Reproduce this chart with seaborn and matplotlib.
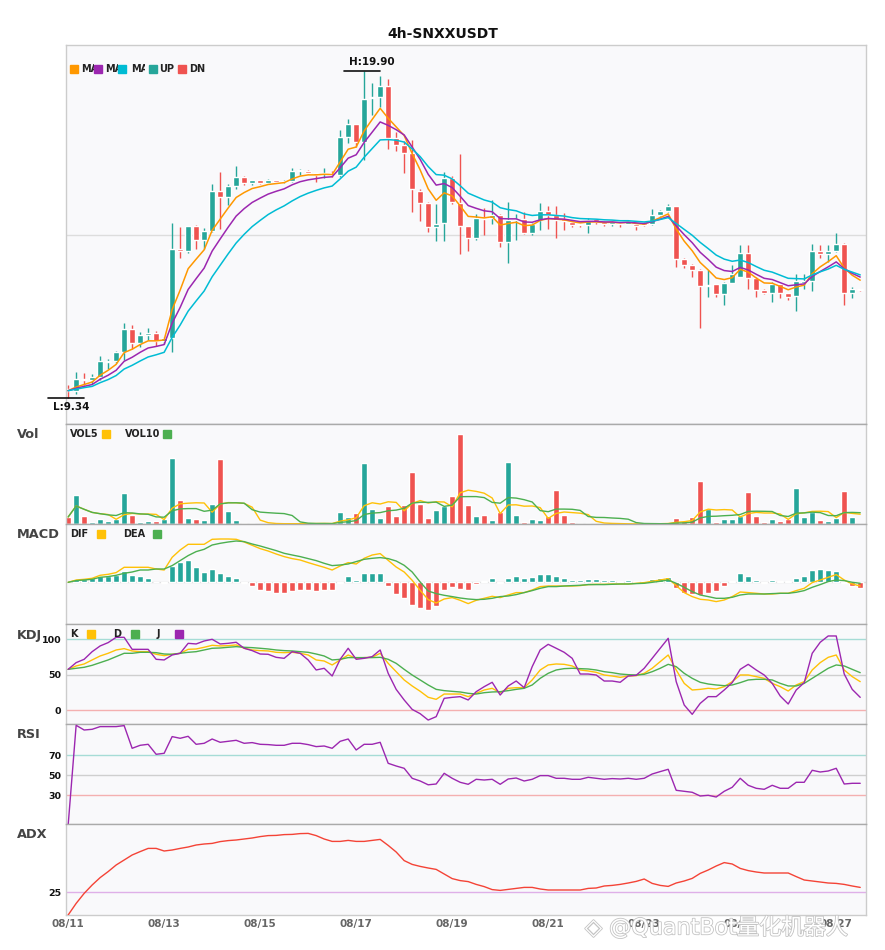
# 4h SNXXUSDT : bougies + Vol / MACD / KDJ / RSI / ADX
import matplotlib
matplotlib.use("Agg")
import matplotlib.pyplot as plt
import matplotlib.patheffects as pe
from matplotlib.patches import Rectangle
import numpy as np
import seaborn as sns

W, H = 885, 950

date_labels = ['08/11', '08/13', '08/15', '08/17', '08/19', '08/21', '08/23', '08/25', '08/27']

opens = [9.62, 9.58, 9.96, 9.92, 10.01, 10.52, 10.53, 10.82, 11.57, 11.13,
         11.39, 11.43, 11.19, 11.29, 14.17, 14.09, 14.90, 14.46, 14.74, 16.02,
         15.84, 16.20, 16.49, 16.29, 16.38, 16.30, 16.38, 16.33, 16.35, 16.66,
         16.68, 16.60, 16.58, 16.60, 16.54, 17.78, 18.19, 17.60, 19.03, 19.07,
         19.42, 17.73, 17.51, 17.26, 16.02, 15.65, 14.87, 15.00, 16.45, 15.65,
         14.90, 14.52, 15.16, 15.16, 15.27, 14.39, 15.09, 15.11, 14.68, 15.09,
         15.38, 15.27, 15.11, 15.03, 14.95, 14.93, 15.11, 15.03, 14.96, 15.00,
         14.98, 14.98, 15.00, 14.96, 15.25, 15.38, 15.54, 13.83, 13.64, 13.47,
         12.97, 13.02, 12.70, 13.07, 13.26, 14.03, 13.22, 12.83, 12.74, 13.02,
         12.74, 12.64, 13.07, 13.13, 14.10, 14.01, 14.10, 14.31, 12.74, 12.85]
highs = [9.76, 10.17, 10.14, 10.11, 10.70, 10.59, 10.87, 11.76, 11.70, 11.46,
         11.60, 11.50, 11.32, 15.00, 14.87, 14.90, 14.93, 14.82, 16.25, 16.64,
         16.27, 16.83, 16.50, 16.40, 16.40, 16.42, 16.40, 16.40, 16.76, 16.73,
         16.71, 16.62, 16.76, 16.66, 18.00, 18.35, 18.20, 19.90, 19.53, 19.74,
         19.66, 17.94, 17.65, 17.69, 16.11, 15.68, 15.60, 16.63, 16.52, 17.24,
         14.90, 15.30, 15.47, 15.73, 15.28, 15.68, 15.30, 15.35, 15.00, 15.65,
         15.54, 15.54, 15.33, 15.09, 14.97, 15.17, 15.14, 15.05, 15.07, 15.02,
         15.10, 15.00, 15.02, 15.46, 15.42, 15.60, 15.56, 13.88, 13.68, 13.50,
         13.47, 13.04, 13.10, 13.64, 14.28, 14.28, 13.25, 12.86, 13.10, 13.04,
         12.75, 13.34, 13.34, 14.31, 14.28, 14.28, 14.66, 14.36, 12.94, 12.87]
lows = [9.34, 9.47, 9.76, 9.81, 9.92, 10.28, 10.46, 10.57, 10.92, 11.00,
        11.21, 11.03, 11.10, 10.84, 13.87, 14.04, 14.15, 14.17, 14.70, 14.79,
        15.57, 16.10, 16.22, 16.22, 16.25, 16.26, 16.28, 16.30, 16.33, 16.55,
        16.58, 16.33, 16.46, 16.49, 16.49, 17.59, 17.46, 17.03, 18.48, 18.75,
        17.38, 17.33, 16.60, 15.34, 15.07, 14.71, 14.42, 14.42, 15.60, 14.01,
        14.10, 14.46, 14.60, 14.96, 14.23, 13.71, 14.46, 14.63, 14.60, 14.77,
        14.79, 14.52, 14.77, 14.87, 14.88, 14.66, 14.98, 14.90, 14.90, 14.87,
        14.95, 14.77, 14.90, 14.93, 15.22, 15.36, 13.58, 13.53, 13.26, 11.61,
        12.61, 12.61, 12.34, 13.05, 13.26, 12.88, 12.61, 12.70, 12.45, 12.56,
        12.50, 12.16, 12.88, 12.81, 13.85, 13.74, 14.07, 12.34, 12.58, 12.80]
closes = [9.58, 9.95, 9.93, 10.01, 10.53, 10.55, 10.82, 11.57, 11.13, 11.37,
          11.43, 11.19, 11.28, 14.17, 14.10, 14.89, 14.44, 14.73, 16.02, 15.84,
          16.20, 16.49, 16.29, 16.38, 16.30, 16.38, 16.33, 16.36, 16.67, 16.70,
          16.62, 16.55, 16.60, 16.55, 17.78, 18.19, 17.60, 19.00, 19.07, 19.42,
          17.75, 17.53, 17.26, 16.08, 15.65, 14.87, 14.98, 16.45, 15.68, 14.90,
          14.52, 15.16, 15.11, 15.27, 14.39, 15.09, 15.11, 14.68, 14.98, 15.38,
          15.27, 15.09, 15.07, 14.93, 14.92, 15.09, 15.03, 14.96, 15.03, 14.96,
          15.06, 14.91, 14.93, 15.25, 15.38, 15.54, 13.83, 13.64, 13.47, 12.97,
          13.00, 12.70, 13.07, 13.34, 14.03, 13.22, 12.83, 12.74, 13.02, 12.74,
          12.61, 13.12, 13.12, 14.10, 14.01, 14.10, 14.31, 12.74, 12.85, 12.82]

ma5 = [9.58, 9.70, 9.78, 9.86, 10.08, 10.24, 10.43, 10.81, 10.92, 11.07,
       11.19, 11.19, 11.22, 12.20, 12.83, 13.52, 13.83, 14.13, 14.76, 15.12,
       15.48, 15.82, 15.98, 16.11, 16.17, 16.24, 16.27, 16.30, 16.42, 16.51,
       16.55, 16.55, 16.57, 16.56, 16.97, 17.38, 17.45, 17.97, 18.34, 18.70,
       18.38, 18.10, 17.82, 17.24, 16.71, 16.10, 15.73, 15.97, 15.87, 15.55,
       15.21, 15.19, 15.16, 15.20, 14.93, 14.98, 15.02, 14.91, 14.93, 15.08,
       15.14, 15.12, 15.10, 15.04, 15.00, 15.03, 15.03, 15.01, 15.02, 15.00,
       15.02, 14.98, 14.96, 15.06, 15.17, 15.29, 14.80, 14.41, 14.10, 13.72,
       13.48, 13.22, 13.17, 13.23, 13.50, 13.41, 13.22, 13.06, 13.05, 12.95,
       12.84, 12.93, 12.99, 13.36, 13.58, 13.75, 13.94, 13.54, 13.31, 13.15]
ma8 = [9.58, 9.66, 9.72, 9.78, 9.95, 10.08, 10.24, 10.53, 10.66, 10.82,
       10.96, 11.01, 11.07, 11.76, 12.27, 12.85, 13.20, 13.54, 14.09, 14.48,
       14.86, 15.22, 15.46, 15.66, 15.80, 15.93, 16.02, 16.10, 16.23, 16.33,
       16.39, 16.43, 16.47, 16.49, 16.78, 17.09, 17.20, 17.60, 17.93, 18.26,
       18.15, 18.01, 17.84, 17.45, 17.05, 16.57, 16.22, 16.27, 16.14, 15.86,
       15.56, 15.47, 15.39, 15.36, 15.14, 15.13, 15.13, 15.03, 15.02, 15.10,
       15.14, 15.13, 15.12, 15.08, 15.04, 15.05, 15.05, 15.03, 15.03, 15.01,
       15.02, 15.00, 14.98, 15.04, 15.12, 15.21, 14.90, 14.62, 14.36, 14.05,
       13.82, 13.57, 13.46, 13.43, 13.56, 13.48, 13.34, 13.21, 13.17, 13.07,
       12.97, 13.00, 13.03, 13.27, 13.43, 13.58, 13.74, 13.52, 13.37, 13.25]
ma13 = [9.58, 9.63, 9.68, 9.72, 9.84, 9.94, 10.07, 10.28, 10.40, 10.54,
        10.67, 10.74, 10.82, 11.30, 11.70, 12.15, 12.48, 12.80, 13.26, 13.63,
        14.00, 14.35, 14.63, 14.88, 15.08, 15.27, 15.42, 15.55, 15.71, 15.85,
        15.96, 16.05, 16.13, 16.19, 16.42, 16.67, 16.80, 17.12, 17.40, 17.68,
        17.69, 17.67, 17.61, 17.39, 17.14, 16.82, 16.56, 16.54, 16.42, 16.20,
        15.96, 15.85, 15.74, 15.67, 15.49, 15.43, 15.39, 15.29, 15.24, 15.26,
        15.26, 15.24, 15.22, 15.17, 15.14, 15.13, 15.12, 15.10, 15.09, 15.07,
        15.07, 15.05, 15.03, 15.06, 15.11, 15.17, 14.98, 14.79, 14.60, 14.37,
        14.17, 13.96, 13.83, 13.76, 13.80, 13.72, 13.59, 13.47, 13.41, 13.31,
        13.21, 13.20, 13.19, 13.32, 13.42, 13.51, 13.63, 13.50, 13.41, 13.32]

volumes = [7.3, 29.3, 8.3, 2.7, 5.3, 3.3, 5.3, 31.3, 9.3, 2.3,
           3.3, 3.3, 5.3, 66.3, 24.3, 6.3, 5.3, 4.3, 20.3, 65.3,
           13.3, 4.3, 1.3, 1.3, 0.7, 0.3, 0.3, 0.3, 1.3, 0.7,
           0.7, 1.0, 1.0, 0.7, 12.3, 7.3, 11.3, 61.3, 15.3, 6.3,
           18.3, 8.3, 19.3, 52.3, 20.3, 6.3, 14.3, 18.3, 28.3, 90.3,
           19.3, 8.3, 9.3, 4.3, 12.3, 62.3, 9.3, 2.3, 5.3, 4.3,
           8.3, 34.3, 9.3, 2.3, 1.3, 1.3, 0.7, 0.7, 0.3, 0.3,
           0.3, 0.3, 0.3, 1.3, 0.7, 1.3, 6.3, 3.3, 7.3, 43.3,
           15.3, 2.3, 5.3, 5.3, 8.3, 32.3, 8.3, 2.3, 5.3, 3.3,
           5.3, 36.3, 7.3, 12.3, 4.3, 3.3, 6.3, 33.3, 7.3, 0.3]
vol5 = [7.3, 18.3, 15.0, 11.9, 10.6, 9.8, 5.0, 9.6, 10.9, 10.3,
        10.3, 9.9, 4.7, 16.1, 20.5, 21.1, 21.5, 21.3, 12.1, 20.3,
        21.7, 21.5, 20.9, 17.1, 4.2, 1.6, 0.8, 0.6, 0.6, 0.6,
        0.7, 0.8, 0.9, 0.8, 3.1, 4.5, 6.5, 18.6, 21.5, 20.3,
        22.5, 21.9, 13.5, 20.9, 23.7, 21.3, 22.5, 22.3, 17.5, 31.5,
        34.1, 32.9, 31.1, 26.3, 10.7, 19.3, 19.5, 18.1, 18.3, 16.7,
        5.9, 10.9, 12.3, 11.7, 11.1, 9.7, 3.0, 1.3, 0.9, 0.7,
        0.5, 0.4, 0.3, 0.5, 0.6, 0.8, 2.0, 2.6, 3.8, 12.3,
        15.1, 14.3, 14.7, 14.3, 7.3, 10.7, 11.9, 11.3, 11.3, 10.3,
        4.9, 10.5, 11.5, 12.9, 13.1, 12.7, 6.7, 11.9, 10.9, 10.1]
vol10 = [7.3, 18.3, 15.0, 11.9, 10.6, 9.4, 8.8, 11.6, 11.3, 10.4,
         10.0, 7.4, 7.1, 13.5, 15.4, 15.7, 15.7, 13.0, 14.1, 20.4,
         21.4, 21.5, 21.1, 14.6, 12.2, 11.6, 11.1, 10.7, 8.8, 2.4,
         1.1, 0.8, 0.8, 0.7, 1.9, 2.6, 3.7, 9.8, 11.2, 11.7,
         13.5, 14.2, 16.0, 21.2, 22.0, 21.9, 22.2, 17.9, 19.2, 27.6,
         27.7, 27.7, 26.7, 21.9, 21.1, 26.7, 26.2, 24.6, 22.3, 13.7,
         12.6, 15.2, 15.2, 15.0, 13.9, 7.8, 6.9, 6.8, 6.3, 5.9,
         5.1, 1.7, 0.8, 0.7, 0.6, 0.6, 1.2, 1.4, 2.1, 6.4,
         7.9, 8.1, 8.6, 9.0, 9.8, 12.9, 13.1, 13.0, 12.8, 8.8,
         7.8, 11.2, 11.4, 12.1, 11.7, 8.8, 8.6, 11.7, 11.9, 11.6]

dif = [0, .023, .03, .04, .07, .08, .097, .15, .15, .15,
       .15, .133, .123, .25, .323, .38, .38, .38, .43, .433,
       .433, .43, .403, .37, .337, .313, .283, .257, .237, .223,
       .197, .173, .15, .123, .163, .197, .183, .24, .273, .287,
       .22, .153, .103, .02, -.08, -.173, -.207, -.167, -.153, -.18,
       -.213, -.18, -.16, -.14, -.153, -.127, -.103, -.103, -.077, -.043,
       -.037, -.037, -.037, -.037, -.033, -.023, -.02, -.02, -.017, -.017,
       -.017, -.01, -.003, .01, .023, .037, -.033, -.103, -.143, -.17,
       -.177, -.193, -.177, -.143, -.097, -.103, -.11, -.117, -.117, -.11,
       -.11, -.083, -.06, -.003, .023, .05, .077, .023, -.017, -.037]
dea = [0, .017, .023, .03, .05, .057, .07, .09, .103, .123,
       .123, .133, .133, .167, .217, .267, .307, .33, .373, .39,
       .403, .413, .407, .383, .363, .34, .317, .29, .273, .257,
       .237, .217, .19, .167, .173, .183, .207, .23, .24, .247,
       .237, .213, .17, .103, .003, -.087, -.113, -.13, -.143, -.157,
       -.167, -.173, -.17, -.16, -.143, -.137, -.123, -.103, -.083, -.06,
       -.043, -.043, -.037, -.033, -.03, -.023, -.023, -.023, -.02, -.017,
       -.017, -.013, -.01, 0, .01, .023, -.01, -.05, -.093, -.127,
       -.143, -.16, -.16, -.15, -.127, -.117, -.117, -.117, -.113, -.11,
       -.11, -.1, -.083, -.05, -.023, .007, .023, .017, 0, -.01]
macd_hist = [0, .03, .03, .04, .063, .063, .073, .113, .073, .063,
             .04, .005, -.007, .163, .203, .223, .153, .103, .133, .093,
             .063, .043, -.01, -.037, -.077, -.087, -.107, -.107, -.087, -.077,
             -.077, -.087, -.077, -.077, -.005, .063, .02, .093, .093, .096,
             -.037, -.117, -.157, -.227, -.257, -.277, -.237, -.077, -.047, -.067,
             -.077, -.017, .01, .04, -.003, .043, .063, .043, .053, .083,
             .083, .063, .043, .023, .023, .033, .033, .023, .023, .013,
             .023, .013, .013, .033, .043, .053, -.053, -.107, -.117, -.127,
             -.107, -.083, -.033, .013, .093, .063, .023, -.003, .023, .013,
             .013, .043, .063, .123, .133, .123, .113, -.007, -.037, -.053]

k_line = [57.5, 62.3, 65.1, 70.8, 76.4, 80.2, 84.9, 86.8, 83.5, 82.5,
          82.5, 78.8, 76.9, 78.8, 80.2, 85.8, 86.3, 88.7, 91.5, 90.6,
          91, 92, 87.3, 84.9, 84, 83.5, 81.6, 81.1, 81.6, 80.2,
          77.8, 70.8, 69.3, 63.7, 70.8, 77.8, 73.1, 74.1, 74.5, 80.2,
          66, 54.2, 42.5, 34, 26.5, 18, 15.1, 22.6, 22.6, 22.6,
          18.9, 23.6, 28.3, 30.7, 24.5, 30.7, 31.6, 31.6, 42.5, 56.6,
          63.7, 65.1, 64.6, 62.3, 56.6, 55.2, 53.3, 49.5, 48.1, 46.2,
          48.1, 48.6, 51.9, 59, 68.4, 77.8, 56.6, 37.7, 28.3, 29.2,
          30.7, 29.7, 33, 40.1, 49.5, 49.5, 47.2, 44.8, 37.7, 33,
          26.9, 35.4, 40.1, 56.6, 67, 74.5, 77.8, 56.6, 47.2, 40.1]
d_line = [57.5, 59, 60.4, 63.2, 67, 70.8, 75.5, 80.2, 80.2, 81.6,
          81.6, 81.1, 79.2, 78.8, 80.2, 81.6, 82.5, 84.9, 87.3, 87.7,
          88.7, 89.6, 88.7, 88.2, 87.3, 86.3, 84.9, 84, 83.5, 82.5,
          81.6, 79.2, 76.4, 70.8, 71.7, 74.1, 74.1, 74.1, 74.1, 74.5,
          71.7, 66, 57.5, 49.5, 42.5, 35.4, 29.2, 27.4, 26.4, 25.5,
          23.6, 22.6, 24.5, 25.5, 25.9, 27.4, 29.2, 30.7, 35.4, 44.8,
          51.9, 56.6, 58.5, 59, 58.5, 58, 56.6, 54.2, 52.8, 50.9,
          50, 49.5, 50.5, 54.2, 59, 64.6, 61.3, 51.9, 44.8, 39.2,
          36.8, 35.4, 34.4, 35.4, 38.7, 42.5, 43.4, 43.4, 42.5, 37.7,
          34, 34, 37.7, 44.8, 51.9, 59, 63.7, 62.3, 57.5, 52.8]
j_line = [57.5, 67, 71.7, 82.5, 90.6, 95.3, 102.8, 102.8, 85.8, 85.8,
          85.8, 71.7, 70.8, 77.8, 80.2, 94.3, 93.4, 97.6, 100, 93.4,
          94.3, 95.8, 87.3, 84, 79.2, 78.8, 74.5, 73.1, 82.5, 80.2,
          70.8, 56.6, 59, 48.1, 71.7, 87.3, 71.7, 73.1, 75.5, 84.9,
          51.9, 29.2, 14.2, 0.9, -5.2, -14.2, -9.4, 16.5, 17.9, 18.9,
          14.2, 25.9, 33, 39.2, 21.2, 34, 41, 31.6, 61.3, 84.9,
          92.9, 87.3, 81.6, 73.1, 50.9, 50.9, 49.5, 41, 41, 39.2,
          48.1, 49.1, 59, 73.1, 87.3, 101.4, 40.1, 7.1, -6.1, 9.4,
          18.9, 18.9, 28.3, 38.7, 57.5, 64.6, 56.6, 49.5, 37.7, 19.8,
          8.5, 28.3, 38.7, 80.2, 95.8, 104.7, 104.7, 50.9, 29.2, 17.9]

rsi = [0, 100, 95.3, 96, 98.7, 98.7, 98.7, 99.7, 77, 80,
       81, 71, 72, 88.7, 87, 89, 81, 82, 86.3, 83,
       84, 85, 82, 82.7, 81, 80.7, 80, 80, 82, 82,
       80.7, 78.7, 79.3, 77, 84, 86.3, 75.3, 81, 81, 83,
       62, 59.3, 57, 47, 44.3, 40.5, 41.3, 52, 47, 43,
       41, 46, 45.3, 46, 41, 46.3, 47.3, 44.3, 46, 49.7,
       49.7, 47, 47, 46, 46, 48, 47, 46, 46.7, 46.3,
       47, 46, 47, 51.3, 53.7, 56, 35, 34, 33, 29.3,
       30, 28.3, 34, 38, 47, 40, 37, 36, 40, 37,
       37, 43, 43, 55, 53.3, 54.3, 57, 41.3, 42, 42]

adx = [13.5, 19.3, 24.3, 28.5, 32.2, 35.2, 38.5, 41, 43.5, 45.2,
       46.8, 46.8, 45.5, 46, 46.8, 47.5, 48.5, 49, 49.3, 50.2,
       50.7, 51, 51.5, 52, 52.7, 53.2, 53.3, 53.7, 53.8, 54.2,
       54.3, 53.2, 51.5, 50.3, 50.3, 50.8, 50.3, 50.3, 50.8, 51.3,
       48.3, 45, 40.7, 38.8, 37.8, 37, 36.3, 34, 31.7, 30.7,
       30.2, 28.8, 27.7, 26.2, 25.8, 26.3, 26.8, 27.3, 27.3, 26.5,
       26, 26, 26, 26, 26, 26.8, 27, 28, 28.3, 28.8,
       29.5, 30.3, 31.5, 29.3, 28.3, 27.8, 29.5, 30.5, 31.8, 34.3,
       36, 38, 39.7, 39, 36.8, 35.7, 35, 34.5, 34.5, 34.5,
       34.5, 32.7, 31, 30.5, 30, 29.5, 29.3, 28.8, 28, 27.3]

UP = '#26a69a'
DN = '#ef5350'
BG = '#f9f9fb'
C_MA5, C_MA8, C_MA13 = '#ff9800', '#9c27b0', '#00bcd4'
C_YEL, C_GRN, C_PUR = '#ffc107', '#4caf50', '#9c27b0'


def fxy(x, y):
    """pixels (origine en haut a gauche) -> coordonnees figure"""
    return x / W, 1 - y / H


def add_square(fig, x, y, color):
    fx, fy = fxy(x, y + 4)
    fig.add_artist(Rectangle((fx, fy), 8 / W, 8 / H, transform=fig.transFigure,
                             color=color, zorder=6))


def add_label(fig, x, y, txt, clip_w=None, size=7):
    fx, fy = fxy(x, y)
    t = fig.text(fx, fy, txt, fontsize=size, fontweight='bold', color='#222222',
                 ha='left', va='center', zorder=5)
    if clip_w is not None:
        cx, cy = fxy(x, y + 8)
        clip = Rectangle((cx, cy), clip_w / W, 16 / H, transform=fig.transFigure)
        t.set_clip_path(clip)
        t.set_clip_on(True)
    return t


def make_axes(fig, top, bottom, sep='#aaaaaa'):
    ax = fig.add_axes([65.5 / W, 1 - bottom / H, 800 / W, (bottom - top) / H])
    ax.set_facecolor(BG)
    ax.set_xlim(-0.33, 99.66)
    ax.set_xticks([])
    ax.set_yticks([])
    for s in ax.spines.values():
        s.set_color('#cccccc')
        s.set_linewidth(1)
    ax.spines['top'].set_color(sep)
    return ax


def line(ax, vals, color, lw=1.0):
    sns.lineplot(x=idx, y=np.asarray(vals, dtype=float), ax=ax, color=color,
                 linewidth=lw, estimator=None, sort=False, legend=False, zorder=3)
    ax.set_xlabel('')
    ax.set_ylabel('')


def left_ticks(ax, vals):
    ax.set_yticks(vals)
    ax.set_yticklabels([str(v) for v in vals], fontsize=6.8, fontweight='bold', color='#111111')
    ax.tick_params(axis='y', length=0, pad=3)


if __name__ == "__main__":
    sns.set_theme(style="white")
    plt.rcParams['font.family'] = ['DejaVu Sans']

    n = len(closes)
    idx = np.arange(n)
    o, h, l, c = (np.array(a) for a in (opens, highs, lows, closes))
    up = c >= o
    colors = [UP if u else DN for u in up]

    fig = plt.figure(figsize=(W / 100, H / 100), dpi=100)
    fig.patch.set_facecolor('white')

    # ---- bougies
    ax = make_axes(fig, 45, 424.3, sep='#cccccc')
    ax.spines['bottom'].set_color('#aaaaaa')
    lo, hi = l.min(), h.max()
    pad = (hi - lo) * 0.08
    ax.set_ylim(lo - pad, hi + pad)
    ax.axhline((lo + hi) / 2, color='#dddddd', lw=1, zorder=1)
    ax.vlines(idx, l, h, colors=colors, lw=1, zorder=2)
    body = np.maximum(np.abs(c - o), 0.025)
    ax.bar(idx, body, bottom=np.minimum(o, c), width=0.76, color=colors, zorder=2)
    line(ax, ma5, C_MA5, 1.1)
    line(ax, ma8, C_MA8, 1.1)
    line(ax, ma13, C_MA13, 1.1)
    ih, il = int(np.argmax(h)), int(np.argmin(l))
    ax.plot([ih - 2.5, ih + 2], [hi, hi], color='#111111', lw=1.2, clip_on=False, zorder=4)
    ax.text(ih + 0.9, hi + 0.12, f'H:{hi:.2f}', ha='center', va='bottom', fontsize=7.5,
            fontweight='bold', color='#111111')
    ax.plot([il - 2.5, il + 2], [lo, lo], color='#111111', lw=1.2, clip_on=False, zorder=4)
    ax.text(il + 0.45, lo - 0.13, f'L:{lo:.2f}', ha='center', va='top', fontsize=7.5,
            fontweight='bold', color='#111111')

    add_square(fig, 70, 69, C_MA5)
    add_label(fig, 81, 69, 'MA5', clip_w=13)
    add_square(fig, 94, 69, C_MA8)
    add_label(fig, 105, 69, 'MA8', clip_w=13)
    add_square(fig, 118, 69, C_MA13)
    add_label(fig, 131, 69, 'MA13', clip_w=13.5)
    add_square(fig, 148.5, 69, UP)
    add_label(fig, 159, 69, 'UP')
    add_square(fig, 178, 69, DN)
    add_label(fig, 189, 69, 'DN')

    # ---- volume
    axv = make_axes(fig, 424.3, 524.3)
    axv.bar(idx, volumes, width=0.76, color=colors, zorder=2)
    axv.set_ylim(0, max(volumes) * 1.107)
    line(axv, vol5, C_YEL)
    line(axv, vol10, C_GRN)
    add_label(fig, 70, 434, 'VOL5')
    add_square(fig, 101.5, 434, C_YEL)
    add_label(fig, 125, 434, 'VOL10')
    add_square(fig, 163, 434, C_GRN)

    # ---- MACD
    axm = make_axes(fig, 524.3, 624.3)
    axm.set_ylim(-0.42, 0.58)
    axm.axhline(0, color='#dddddd', lw=1, zorder=1)
    axm.bar(idx, macd_hist, width=0.76, zorder=2,
            color=[UP if v >= 0 else DN for v in macd_hist])
    line(axm, dif, C_YEL)
    line(axm, dea, C_GRN)
    add_label(fig, 70, 533.7, 'DIF')
    add_square(fig, 97, 533.7, C_YEL)
    add_label(fig, 123, 533.7, 'DEA')
    add_square(fig, 153, 533.7, C_GRN)

    # ---- KDJ
    axk = make_axes(fig, 624.3, 724.3)
    axk.set_ylim(-20.2, 121.2)
    axk.axhline(100, color='#a6dcd6', lw=1, zorder=1)
    axk.axhline(50, color='#cfcfcf', lw=1, zorder=1)
    axk.axhline(0, color='#f4b0b0', lw=1, zorder=1)
    line(axk, k_line, C_YEL)
    line(axk, d_line, C_GRN)
    line(axk, j_line, C_PUR)
    left_ticks(axk, [0, 50, 100])
    add_label(fig, 70.5, 633.7, 'K')
    add_square(fig, 87, 633.7, C_YEL)
    add_label(fig, 113, 633.7, 'D')
    add_square(fig, 131, 633.7, C_GRN)
    add_label(fig, 156.5, 633.7, 'J')
    add_square(fig, 175, 633.7, C_PUR)

    # ---- RSI
    axr = make_axes(fig, 724.3, 824.3)
    axr.set_ylim(1, 101)
    axr.axhline(70, color='#a6dcd6', lw=1, zorder=1)
    axr.axhline(50, color='#cfcfcf', lw=1, zorder=1)
    axr.axhline(30, color='#f4b0b0', lw=1, zorder=1)
    line(axr, rsi, C_PUR)
    left_ticks(axr, [30, 50, 70])

    # ---- ADX
    axa = make_axes(fig, 824.3, 915)
    axa.set_ylim(13.5, 58.85)
    axa.axhline(25, color='#dfb0e8', lw=1, zorder=1)
    line(axa, adx, '#f44336')
    left_ticks(axa, [25])
    axa.set_xticks(np.arange(0, n, 12))
    axa.set_xticklabels(date_labels, fontsize=7.5, fontweight='bold', color='#666666')
    axa.tick_params(axis='x', length=0, pad=3)

    # ---- titres
    fig.text(443 / W, 1 - 34 / H, '4h-SNXXUSDT', ha='center', va='center',
             fontsize=10, fontweight='bold', color='#111111')
    for name, yc in [('Vol', 435), ('MACD', 535), ('KDJ', 635), ('RSI', 735), ('ADX', 835)]:
        fig.text(17 / W, 1 - yc / H, name, ha='left', va='center', fontsize=9.3,
                 fontweight='bold', color='#444444')

    # filigrane (recouvre les dates comme sur l'original)
    wm = fig.text(585 / W, 1 - 927 / H, '◈ @QuantBot量化机器人', ha='left', va='center',
                  fontsize=16, color='#ffffff', family=['DejaVu Sans', 'Noto Sans CJK SC'],
                  zorder=10)
    wm.set_path_effects([pe.withStroke(linewidth=1.2, foreground='#c4c4c4')])

    fig.savefig('out.png', dpi=100, facecolor='white')
